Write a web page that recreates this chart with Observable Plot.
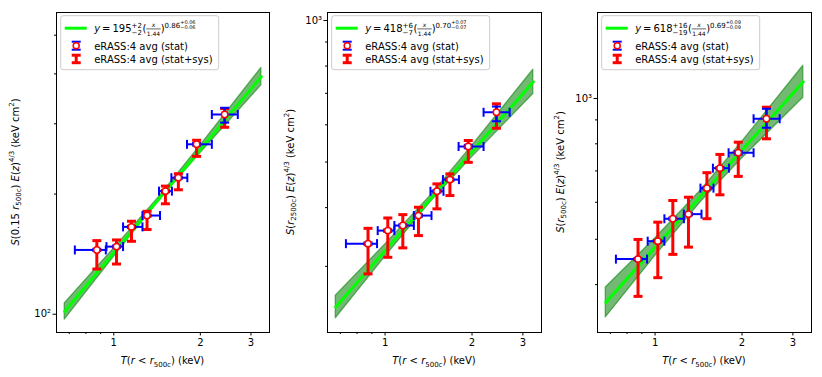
<!DOCTYPE html>
<html><head><meta charset="utf-8">
<script src="https://cdn.jsdelivr.net/npm/d3@7"></script>
<script src="https://cdn.jsdelivr.net/npm/@observablehq/plot@0.6"></script>
<style>
body{margin:0;background:#fff;}
#fig{position:relative;width:822px;height:377px;font-family:"DejaVu Sans",sans-serif;}
#fig svg{position:absolute;top:0;overflow:visible;}
</style></head><body><div id="fig"></div>
<script>
// ---- shared temperature bins (keV) ----
const temperature   = [0.873, 1.022, 1.152, 1.305, 1.512, 1.677, 1.941, 2.43];
const temperatureLo = [0.732, 0.943, 1.077, 1.258, 1.436, 1.586, 1.797, 2.193];
const temperatureHi = [0.938, 1.077, 1.258, 1.448, 1.593, 1.802, 2.193, 2.70];

// ---- panel 1: S(0.15 r500c) ----
const entropy015       = [144.9, 147.7, 165.5, 176.7, 203.4, 219.8, 266.5, 316.5];
const entropy015StatLo = [144.0, 146.8, 164.5, 175.6, 202.2, 218.5, 264.5, 302.0];
const entropy015StatHi = [145.8, 148.6, 166.5, 177.8, 204.6, 221.1, 268.5, 329.0];
const entropy015SysLo  = [129.8, 133.6, 152.3, 163.0, 189.1, 205.0, 248.6, 294.0];
const entropy015SysHi  = [152.9, 153.5, 171.0, 181.1, 209.4, 224.9, 272.8, 327.6];

// ---- panel 2: S(r2500c) ----
const entropy2500       = [335.3, 357.4, 366.4, 384.7, 433.3, 458.8, 539.5, 638.1];
const entropy2500StatLo = [333.3, 355.3, 364.2, 382.4, 430.7, 456.0, 535.0, 610.6];
const entropy2500StatHi = [337.3, 359.5, 368.6, 387.0, 435.9, 461.6, 544.0, 656.2];
const entropy2500SysLo  = [289.1, 313.6, 328.4, 348.8, 397.6, 424.3, 499.3, 590.0];
const entropy2500SysHi  = [361.4, 380.2, 386.5, 400.7, 449.3, 471.8, 555.6, 665.0];

// ---- panel 3: S(r500c) ----
const entropy500       = [453.5, 495.4, 553.2, 565.9, 643.2, 709.6, 765.6, 905.0];
const entropy500StatLo = [450.8, 492.4, 549.9, 562.5, 639.3, 705.3, 759.0, 865.9];
const entropy500StatHi = [456.2, 498.4, 556.5, 569.3, 647.1, 713.9, 772.0, 950.5];
const entropy500SysLo  = [377.5, 413.9, 464.2, 481.1, 553.3, 622.4, 681.5, 820.0];
const entropy500SysHi  = [499.6, 544.0, 605.2, 615.1, 694.0, 759.3, 806.5, 958.0];

// ---- fit relations (legend values) and band read at sample temperatures ----
const fitNorm    = [195, 418, 618];
const fitNormUp  = [2, 6, 16];
const fitNormDn  = [2, 7, 19];
const fitSlope   = [0.86, 0.70, 0.69];
const fitSlopeUp = [0.06, 0.07, 0.09];
const fitSlopeDn = [0.06, 0.07, 0.09];
const fitX   = [0.675, 1.0, 1.44, 2.0, 3.26];
const fit1Y  = [101.6, 142.5, 195.0, 258.7, 393.7];
const fit1Lo = [96.9, 139.1, 193.0, 253.0, 374.5];
const fit1Hi = [106.5, 146.0, 197.0, 264.5, 413.9];
const fit2Y  = [246.0, 323.8, 418.0, 526.1, 740.5];
const fit2Lo = [232.7, 314.2, 411.4, 511.6, 697.8];
const fit2Hi = [260.0, 333.7, 424.7, 541.0, 785.8];
const fit3Y  = [366.4, 480.6, 618.0, 775.2, 1085.9];
const fit3Lo = [340.3, 460.2, 600.8, 744.1, 1003.6];
const fit3Hi = [394.5, 501.9, 635.7, 807.6, 1175.0];

// ---- ticks ----
const xMajorTicks = [1, 2, 3];
const xMinorTicks = [0.7, 0.8, 0.9];
const xDomain = [0.632, 3.48];
const legendLabels = ["eRASS:4 avg (stat)", "eRASS:4 avg (stat+sys)"];

const panels = [
  {left: 0, width: 275, ml: 56, mr: 6, yDomain: [90, 570], yMajor: [100], yMajorLabel: "10²", yMinor: [200, 300, 400, 500],
   s: entropy015, statLo: entropy015StatLo, statHi: entropy015StatHi, sysLo: entropy015SysLo, sysHi: entropy015SysHi,
   fy: fit1Y, flo: fit1Lo, fhi: fit1Hi, ylabX: 18.5,
   ylab: [{t:"S",i:1},{t:"(0.15 "},{t:"r",i:1},{t:"500c",sub:1},{t:") "},{t:"E",i:1},{t:"("},{t:"z",i:1},{t:")"},{t:"4/3",sup:1},{t:" (keV cm"},{t:"2",sup:1},{t:")"}]},
  {left: 275, width: 272, ml: 52, mr: 6, yDomain: [217, 1040], yMajor: [1000], yMajorLabel: "10³", yMinor: [300, 400, 500, 600, 700, 800, 900],
   s: entropy2500, statLo: entropy2500StatLo, statHi: entropy2500StatHi, sysLo: entropy2500SysLo, sysHi: entropy2500SysHi,
   fy: fit2Y, flo: fit2Lo, fhi: fit2Hi, ylabX: 293.5,
   ylab: [{t:"S",i:1},{t:"("},{t:"r",i:1},{t:"2500c",sub:1},{t:") "},{t:"E",i:1},{t:"("},{t:"z",i:1},{t:")"},{t:"4/3",sup:1},{t:" (keV cm"},{t:"2",sup:1},{t:")"}]},
  {left: 547, width: 275, ml: 50, mr: 11, yDomain: [316, 1527], yMajor: [1000], yMajorLabel: "10³", yMinor: [400, 500, 600, 700, 800, 900],
   s: entropy500, statLo: entropy500StatLo, statHi: entropy500StatHi, sysLo: entropy500SysLo, sysHi: entropy500SysHi,
   fy: fit3Y, flo: fit3Lo, fhi: fit3Hi, ylabX: 563.5,
   ylab: [{t:"S",i:1},{t:"("},{t:"r",i:1},{t:"500c",sub:1},{t:") "},{t:"E",i:1},{t:"("},{t:"z",i:1},{t:")"},{t:"4/3",sup:1},{t:" (keV cm"},{t:"2",sup:1},{t:")"}]}
];
const xlabParts = [{t:"T",i:1},{t:"("},{t:"r",i:1},{t:" < "},{t:"r",i:1},{t:"500c",sub:1},{t:") (keV)"}];

const H = 377, MT = 12, MB = 45;
const capSym = vertical => ({draw(ctx, size) { const w = Math.sqrt(size / Math.PI);
  if (vertical) { ctx.moveTo(0, -w); ctx.lineTo(0, w); } else { ctx.moveTo(-w, 0); ctx.lineTo(w, 0); } }});
const hCap = capSym(false), vCap = capSym(true);

function rich(g, parts, x, y, rotate, size) {
  const t = g.append("text").attr("transform", `translate(${x},${y}) rotate(${rotate})`)
    .attr("text-anchor", "middle").attr("font-size", size).attr("fill", "#000").style("white-space", "pre");
  let shift = 0;
  for (const p of parts) {
    const target = p.sub ? 2.5 : p.sup ? -4.5 : 0;
    const ts = t.append("tspan").text(p.t);
    if (target !== shift) ts.attr("dy", target - shift);
    shift = target;
    if (p.sub || p.sup) ts.attr("font-size", size * 0.7);
    if (p.i) ts.attr("font-style", "italic");
  }
}

function legend(g, L, T, k) {
  g.append("rect").attr("x", L).attr("y", T).attr("width", 158).attr("height", 54).attr("rx", 2.5)
    .attr("fill", "white").attr("fill-opacity", 0.8).attr("stroke", "#cccccc").attr("stroke-width", 1);
  g.append("line").attr("x1", L + 4).attr("x2", L + 26).attr("y1", T + 12.5).attr("y2", T + 12.5)
    .attr("stroke", "#00ff00").attr("stroke-width", 3);
  const hx = L + 15.5;
  g.append("line").attr("x1", hx).attr("x2", hx).attr("y1", T + 26).attr("y2", T + 34).attr("stroke", "blue").attr("stroke-width", 2);
  for (const yy of [T + 26, T + 34]) g.append("line").attr("x1", hx - 4.5).attr("x2", hx + 4.5).attr("y1", yy).attr("y2", yy).attr("stroke", "blue").attr("stroke-width", 2);
  g.append("circle").attr("cx", hx).attr("cy", T + 30).attr("r", 3).attr("fill", "white").attr("stroke", "red").attr("stroke-width", 1.5);
  g.append("line").attr("x1", hx).attr("x2", hx).attr("y1", T + 39.5).attr("y2", T + 47).attr("stroke", "red").attr("stroke-width", 3);
  for (const yy of [T + 39.5, T + 47]) g.append("line").attr("x1", hx - 4.5).attr("x2", hx + 4.5).attr("y1", yy).attr("y2", yy).attr("stroke", "red").attr("stroke-width", 3);
  g.append("text").attr("x", L + 33.5).attr("y", T + 33.8).attr("font-size", 10).attr("text-anchor", "start").text(legendLabels[0]);
  g.append("text").attr("x", L + 33.5).attr("y", T + 47.2).attr("font-size", 10).attr("text-anchor", "start").text(legendLabels[1]);
  const B = T + 16.5;
  let cx = L + 33.5;
  const put = (str, size, dy, italic, x = cx, anchor = "start") => {
    const t = g.append("text").attr("x", x).attr("y", B + dy).attr("font-size", size).attr("text-anchor", anchor).text(str);
    if (italic) t.attr("font-style", "italic");
    return t.node().getComputedTextLength();
  };
  cx += put("y", 10, 0, true) + 2;
  cx += put("=", 10, 0, false) + 2;
  cx += put(String(fitNorm[k]), 10, 0, false);
  const a = put("+" + fitNormUp[k], 7, -4.5, false);
  const b = put("\u2212" + fitNormDn[k], 7, 2.8, false);
  cx += Math.max(a, b) + 0.5;
  cx += put("(", 10, 0, false);
  const probe = g.append("text").attr("font-size", 6).text("1.44");
  const fw = probe.node().getComputedTextLength() + 1;
  probe.remove();
  const fc = cx + fw / 2;
  put("x", 6, -5, true, fc, "middle");
  put("1.44", 6, 3.5, false, fc, "middle");
  g.append("line").attr("x1", cx).attr("x2", cx + fw).attr("y1", B - 3.3).attr("y2", B - 3.3).attr("stroke", "#000").attr("stroke-width", 0.6);
  cx += fw;
  cx += put(")", 10, 0, false);
  cx += put(fitSlope[k].toFixed(2), 7, -4.5, false);
  put("+" + fitSlopeUp[k].toFixed(2), 5, -8, false);
  put("\u2212" + fitSlopeDn[k].toFixed(2), 5, -2.8, false);
}

const fig = document.getElementById("fig");
panels.forEach((p, k) => {
  const rows = temperature.map((t, i) => ({t, tlo: temperatureLo[i], thi: temperatureHi[i], s: p.s[i],
    stlo: p.statLo[i], sthi: p.statHi[i], sylo: p.sysLo[i], syhi: p.sysHi[i]}));
  const band = fitX.map((x, i) => ({x, y: p.fy[i], lo: p.flo[i], hi: p.fhi[i]}));
  const svg = Plot.plot({
    width: p.width, height: H, marginLeft: p.ml, marginRight: p.mr, marginTop: MT, marginBottom: MB,
    style: {background: "transparent", fontSize: "10px", fontFamily: "DejaVu Sans", color: "#000", overflow: "visible"},
    x: {type: "log", domain: xDomain},
    y: {type: "log", domain: p.yDomain},
    marks: [
      Plot.areaY(band, {x: "x", y1: "lo", y2: "hi", fill: "#008000", fillOpacity: 0.55, stroke: "#008000", strokeOpacity: 0.55, strokeWidth: 1.3}),
      Plot.line(band, {x: "x", y: "y", stroke: "#00ff00", strokeWidth: 3}),
      Plot.link(rows, {x1: "t", x2: "t", y1: "sylo", y2: "syhi", stroke: "red", strokeWidth: 3}),
      Plot.dot(rows, {x: "t", y: "sylo", symbol: hCap, r: 4.5, stroke: "red", strokeWidth: 3, fill: "none"}),
      Plot.dot(rows, {x: "t", y: "syhi", symbol: hCap, r: 4.5, stroke: "red", strokeWidth: 3, fill: "none"}),
      Plot.link(rows, {x1: "tlo", x2: "thi", y1: "s", y2: "s", stroke: "blue", strokeWidth: 2}),
      Plot.dot(rows, {x: "tlo", y: "s", symbol: vCap, r: 4.5, stroke: "blue", strokeWidth: 2, fill: "none"}),
      Plot.dot(rows, {x: "thi", y: "s", symbol: vCap, r: 4.5, stroke: "blue", strokeWidth: 2, fill: "none"}),
      Plot.link(rows, {x1: "t", x2: "t", y1: "stlo", y2: "sthi", stroke: "blue", strokeWidth: 2}),
      Plot.dot(rows, {x: "t", y: "stlo", symbol: hCap, r: 4.5, stroke: "blue", strokeWidth: 2, fill: "none"}),
      Plot.dot(rows, {x: "t", y: "sthi", symbol: hCap, r: 4.5, stroke: "blue", strokeWidth: 2, fill: "none"}),
      Plot.dot(rows, {x: "t", y: "s", r: 3.2, fill: "white", stroke: "red", strokeWidth: 1.5}),
      Plot.axisX({ticks: xMajorTicks, tickFormat: d => String(d), tickSize: 3.5, tickPadding: 3, label: null}),
      Plot.axisX({ticks: xMinorTicks, tickFormat: () => "", tickSize: 2, label: null}),
      Plot.axisY({ticks: p.yMajor, tickFormat: () => p.yMajorLabel, tickSize: 3.5, tickPadding: 2, label: null}),
      Plot.axisY({ticks: p.yMinor, tickFormat: () => "", tickSize: 2, label: null}),
      Plot.frame({stroke: "#000", strokeWidth: 1})
    ]
  });
  svg.style.left = p.left + "px";
  fig.appendChild(svg);
  const g = d3.select(svg).append("g").attr("font-family", "DejaVu Sans");
  rich(g, p.ylab, p.ylabX - p.left, (MT + H - MB) / 2, -90, 10);
  rich(g, xlabParts, p.ml + (p.width - p.ml - p.mr) / 2, 364, 0, 10);
  legend(g, p.ml + 4.7, MT + 3.7, k);
});
</script></body></html>
